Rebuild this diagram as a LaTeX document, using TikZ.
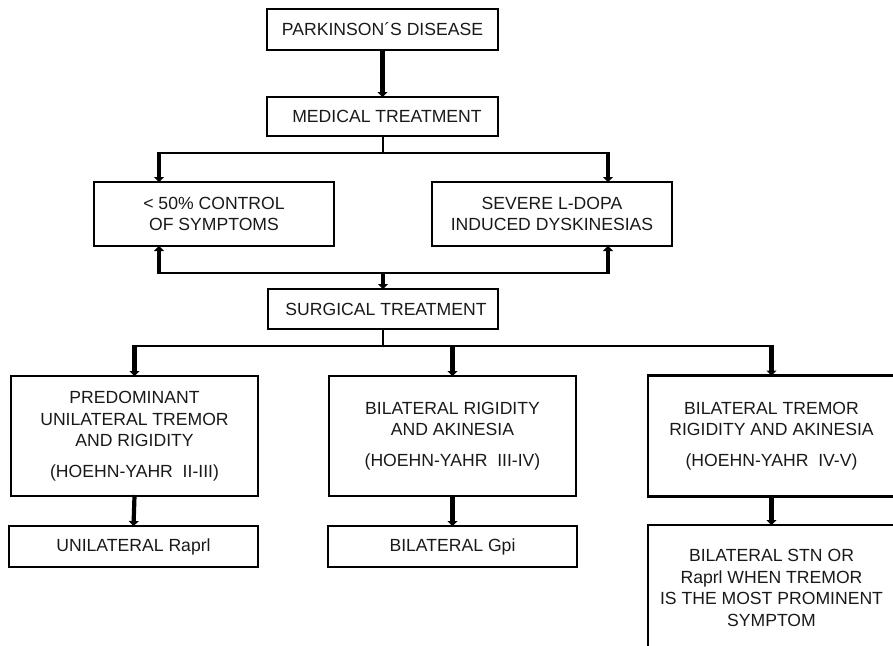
\documentclass[tikz,border=0pt]{standalone}
\usepackage{fontspec}
\setmainfont{Liberation Sans}
\usetikzlibrary{arrows.meta}
\begin{document}
\begin{tikzpicture}[x=1pt,y=-1pt,
  box/.style={draw, line width=2.4pt, inner sep=0pt, outer sep=0pt, align=center,
    font=\fontsize{17.6}{21.5}\selectfont, text=black!90},
  thinline/.style={line width=2pt},
  arr/.style={line width=4.2pt, shorten <=-1pt, -{Triangle[width=10pt,length=5pt]}}]
\useasboundingbox (0,0) rectangle (893,645);
\clip (0,0) rectangle (893,645);
% boxes
\node[box, minimum width=231pt, minimum height=41pt] (pd) at (382.5,29.5) {PARKINSON´S DISEASE};
\node[box, minimum width=231pt, minimum height=39pt] (med) at (382.5,116.5) {\hspace*{9pt}MEDICAL TREATMENT};
\node[box, minimum width=240pt, minimum height=64pt] (ctrl) at (214,214) {< 50\% CONTROL\\OF SYMPTOMS};
\node[box, minimum width=240pt, minimum height=64pt] (dysk) at (552,214) {SEVERE L-DOPA\\INDUCED DYSKINESIAS};
\node[box, minimum width=230pt, minimum height=40pt] (surg) at (383,309) {\hspace*{6pt}SURGICAL TREATMENT};
\node[box, minimum width=247pt, minimum height=120pt] (b1) at (134.5,436) {PREDOMINANT\\UNILATERAL TREMOR\\AND RIGIDITY\\[9pt](HOEHN-YAHR\ \ II-III)};
\node[box, minimum width=247pt, minimum height=120pt] (b2) at (452.5,436) {BILATERAL RIGIDITY\\AND AKINESIA\\[9pt](HOEHN-YAHR\ \ III-IV)};
\node[box, minimum width=247pt, minimum height=121pt] (b3) at (771.5,436) {BILATERAL TREMOR\\RIGIDITY AND AKINESIA\\[9pt](HOEHN-YAHR\ \ IV-V)};
\node[box, minimum width=249pt, minimum height=41pt] (r1) at (133.5,546.5) {UNILATERAL Raprl};
\node[box, minimum width=249pt, minimum height=41pt] (r2) at (452.5,546.5) {BILATERAL Gpi};
\node[box, minimum width=247pt, minimum height=126pt] (r3) at (771.5,588) {BILATERAL STN OR\\Raprl WHEN TREMOR\\IS THE MOST PROMINENT\\SYMPTOM};
% connector points
\coordinate (h1L) at (159,153);
\coordinate (h1R) at (608,153);
\coordinate (h2L) at (159,273);
\coordinate (h2R) at (608,273);
\coordinate (h3L) at (134.5,346);
\coordinate (h3R) at (771.5,346);
% connectors
\draw[arr] (pd.south) -- (med.north);
\draw[thinline] (med.south) -- (med.south |- h1L);
\draw[thinline] ([xshift=-2pt]h1L) -- ([xshift=2pt]h1R);
\draw[arr] (h1L) -- (h1L |- ctrl.north);
\draw[arr] (h1R) -- (h1R |- dysk.north);
\draw[thinline] ([xshift=-2pt]h2L) -- ([xshift=2pt]h2R);
\draw[arr] (h2L) -- (h2L |- ctrl.south);
\draw[arr] (h2R) -- (h2R |- dysk.south);
\draw[arr] (surg.north |- h2L) -- (surg.north);
\draw[thinline] (surg.south) -- (surg.south |- h3L);
\draw[thinline] ([xshift=-2pt]h3L) -- ([xshift=2pt]h3R);
\draw[arr] (h3L) -- (b1.north);
\draw[arr] (b2.north |- h3L) -- (b2.north);
\draw[arr] (h3R) -- (b3.north);
\draw[arr] (b1.south) -- (r1.north);
\draw[arr] (b2.south) -- (r2.north);
\draw[arr] (b3.south) -- (r3.north);
\end{tikzpicture}
\end{document}
